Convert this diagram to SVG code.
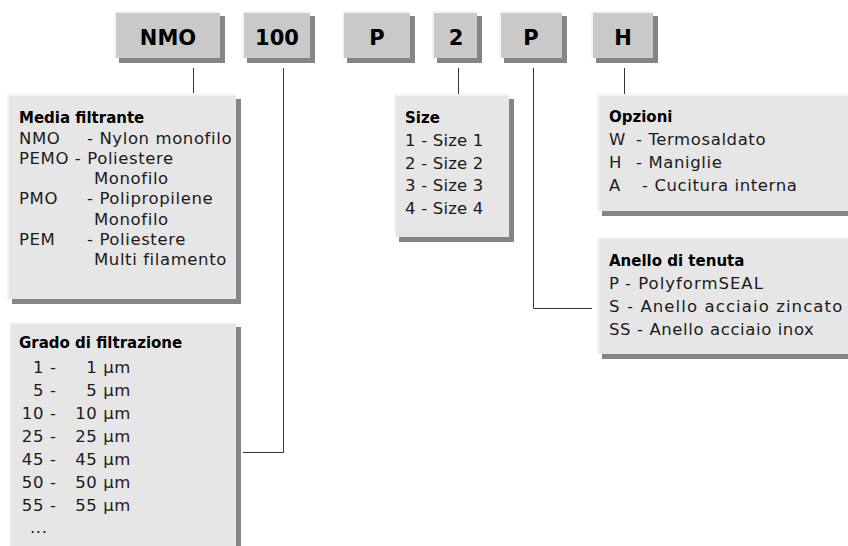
<svg xmlns="http://www.w3.org/2000/svg" width="848" height="546" viewBox="0 0 848 546">
<defs>
<style>
.sh{fill:#858585}
.hl{fill:#f4f4f4}
.code{fill:#c9c9c9}
.box{fill:#e6e6e6}
.lbl{font-family:"DejaVu Sans",sans-serif;font-weight:bold;font-size:21px;fill:#000;text-anchor:middle}
.ttl{font-family:"DejaVu Sans",sans-serif;font-weight:bold;font-size:15px;fill:#000}
.txt{font-family:"DejaVu Sans",sans-serif;font-size:16.5px;fill:#1a1a1a;letter-spacing:0.6px}
.end{text-anchor:end}
.con{fill:none;stroke:#333;stroke-width:1}
</style>
</defs>
<rect width="848" height="546" fill="#fff"/>

<g id="code-nmo">
<rect class="sh" x="119" y="16" width="106" height="47"/>
<rect class="hl" x="114" y="11" width="106" height="47"/>
<rect class="code" x="116" y="13" width="104" height="45"/>
<text class="lbl" x="168" y="45">NMO</text>
</g>
<g id="code-100">
<rect class="sh" x="247" y="16" width="68" height="47"/>
<rect class="hl" x="242" y="11" width="68" height="47"/>
<rect class="code" x="244" y="13" width="66" height="45"/>
<text class="lbl" x="277" y="45">100</text>
</g>
<g id="code-p1">
<rect class="sh" x="347" y="16" width="68" height="47"/>
<rect class="hl" x="342" y="11" width="68" height="47"/>
<rect class="code" x="344" y="13" width="66" height="45"/>
<text class="lbl" x="377" y="45">P</text>
</g>
<g id="code-2">
<rect class="sh" x="437" y="16" width="45" height="47"/>
<rect class="hl" x="432" y="11" width="45" height="47"/>
<rect class="code" x="434" y="13" width="43" height="45"/>
<text class="lbl" x="456" y="45">2</text>
</g>
<g id="code-p2">
<rect class="sh" x="504" y="16" width="63" height="47"/>
<rect class="hl" x="499" y="11" width="63" height="47"/>
<rect class="code" x="501" y="13" width="61" height="45"/>
<text class="lbl" x="531" y="45">P</text>
</g>
<g id="code-h">
<rect class="sh" x="596" y="16" width="62" height="47"/>
<rect class="hl" x="591" y="11" width="62" height="47"/>
<rect class="code" x="593" y="13" width="60" height="45"/>
<text class="lbl" x="623" y="45">H</text>
</g>

<g id="connectors">
<path class="con" d="M193.5 68V93"/>
<path class="con" d="M283.5 68V452.5H243"/>
<path class="con" d="M458.5 68V95"/>
<path class="con" d="M533.5 68V308.5H592"/>
<path class="con" d="M624.5 68V95"/>
</g>

<g id="media-filtrante">
<rect class="sh" x="12" y="99" width="229" height="205"/>
<rect class="hl" x="7" y="94" width="229" height="205"/>
<rect class="box" x="9" y="96" width="227" height="203"/>
<text class="ttl" x="19" y="123">Media filtrante</text>
<text class="txt" x="19" y="143.5">NMO</text><text class="txt" x="87" y="143.5">- Nylon monofilo</text>
<text class="txt" x="19" y="164">PEMO - Poliestere</text>
<text class="txt" x="94" y="184">Monofilo</text>
<text class="txt" x="19" y="204">PMO</text><text class="txt" x="87" y="204">- Polipropilene</text>
<text class="txt" x="94" y="224.5">Monofilo</text>
<text class="txt" x="19" y="245">PEM</text><text class="txt" x="87" y="245">- Poliestere</text>
<text class="txt" x="94" y="265">Multi filamento</text>
</g>

<g id="grado-filtrazione">
<rect class="sh" x="14" y="327" width="227" height="230"/>
<rect class="hl" x="9" y="322" width="227" height="230"/>
<rect class="box" x="11" y="324" width="225" height="228"/>
<text class="ttl" x="19" y="348">Grado di filtrazione</text>
<text class="txt end" x="44" y="373">1</text><text class="txt" x="50" y="373">-</text><text class="txt end" x="131" y="373">1 µm</text>
<text class="txt end" x="44" y="396">5</text><text class="txt" x="50" y="396">-</text><text class="txt end" x="131" y="396">5 µm</text>
<text class="txt end" x="44" y="419">10</text><text class="txt" x="50" y="419">-</text><text class="txt end" x="131" y="419">10 µm</text>
<text class="txt end" x="44" y="442">25</text><text class="txt" x="50" y="442">-</text><text class="txt end" x="131" y="442">25 µm</text>
<text class="txt end" x="44" y="465">45</text><text class="txt" x="50" y="465">-</text><text class="txt end" x="131" y="465">45 µm</text>
<text class="txt end" x="44" y="488">50</text><text class="txt" x="50" y="488">-</text><text class="txt end" x="131" y="488">50 µm</text>
<text class="txt end" x="44" y="511">55</text><text class="txt" x="50" y="511">-</text><text class="txt end" x="131" y="511">55 µm</text>
<text class="txt" x="30" y="533">...</text>
</g>

<g id="size">
<rect class="sh" x="399" y="99" width="115" height="143"/>
<rect class="hl" x="394" y="94" width="115" height="143"/>
<rect class="box" x="396" y="96" width="113" height="141"/>
<text class="ttl" x="405" y="123">Size</text>
<text class="txt" x="405" y="146" style="letter-spacing:0.2px">1 - Size 1</text>
<text class="txt" x="405" y="169" style="letter-spacing:0.2px">2 - Size 2</text>
<text class="txt" x="405" y="191" style="letter-spacing:0.2px">3 - Size 3</text>
<text class="txt" x="405" y="214" style="letter-spacing:0.2px">4 - Size 4</text>
</g>

<g id="opzioni">
<rect class="sh" x="602" y="99" width="260" height="117"/>
<rect class="hl" x="597" y="94" width="260" height="117"/>
<rect class="box" x="599" y="96" width="258" height="115"/>
<text class="ttl" x="609" y="122">Opzioni</text>
<text class="txt" x="609" y="145">W</text><text class="txt" x="636" y="145">- Termosaldato</text>
<text class="txt" x="609" y="168">H</text><text class="txt" x="636" y="168">- Maniglie</text>
<text class="txt" x="609" y="191">A</text><text class="txt" x="642" y="191">- Cucitura interna</text>
</g>

<g id="anello-tenuta">
<rect class="sh" x="602" y="242" width="260" height="117"/>
<rect class="hl" x="597" y="237" width="260" height="117"/>
<rect class="box" x="599" y="239" width="258" height="115"/>
<text class="ttl" x="609" y="266">Anello di tenuta</text>
<text class="txt" x="609" y="289">P</text><text class="txt" x="625" y="289" style="letter-spacing:1px">- PolyformSEAL</text>
<text class="txt" x="609" y="312">S</text><text class="txt" x="627" y="312" style="letter-spacing:1.1px">- Anello acciaio zincato</text>
<text class="txt" x="609" y="335">SS - Anello acciaio inox</text>
</g>
</svg>
